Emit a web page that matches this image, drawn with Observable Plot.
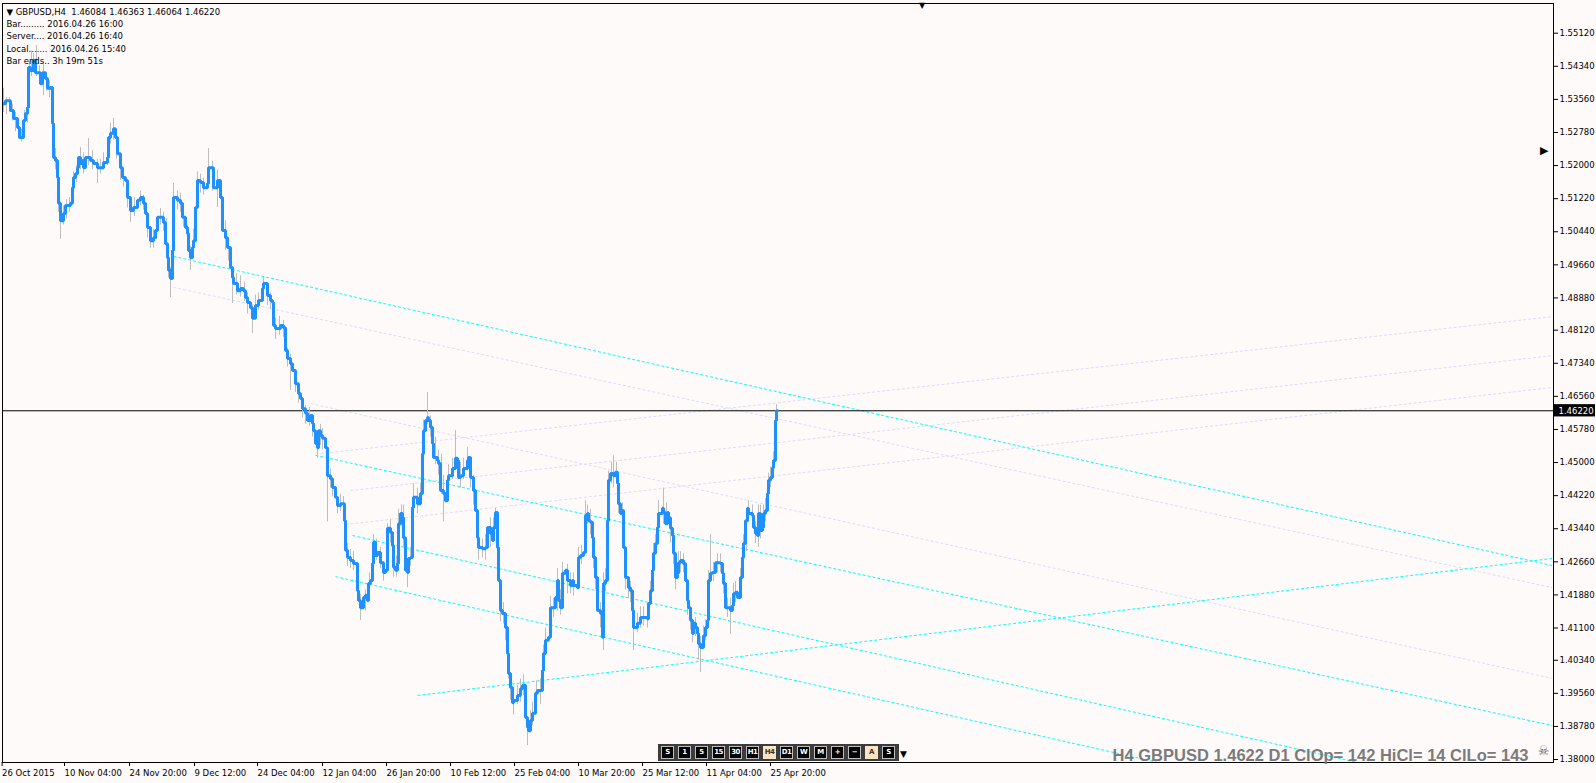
<!DOCTYPE html>
<html><head><meta charset="utf-8">
<script src="https://cdn.jsdelivr.net/npm/d3@7"></script>
<script src="https://cdn.jsdelivr.net/npm/@observablehq/plot@0.6"></script>
<style>
html,body{margin:0;padding:0;background:#FFFAFA;}
#wrap{position:relative;width:1596px;height:783px;overflow:hidden;}
#toolbar{position:absolute;left:658px;top:744px;height:17px;width:241px;background:#3c3c3c;display:flex;gap:4px;padding:0 0 0 3px;box-sizing:border-box;align-items:center;}
#toolbar span{display:inline-block;width:11px;height:11px;border:1px solid #bdbdbd;background:#000;color:#fff;font:bold 7px "DejaVu Sans",sans-serif;line-height:11px;text-align:center;letter-spacing:-0.5px;}
#toolbar span.on{background:#FFE4C4;color:#333;border-color:#FFE4C4;}
#arrowBottom{position:absolute;left:900px;top:749px;font:9px "DejaVu Sans",sans-serif;color:#000;}
</style></head>
<body><div id="wrap"></div>
<script>
// ---------- data ----------
const symbol = "GBPUSD";
const timeframe = "H4";
const ohlcLast = ["1.46084", "1.46363", "1.46064", "1.46220"];
const infoLines = ["Bar......... 2016.04.26 16:00", "Server.... 2016.04.26 16:40", "Local....... 2016.04.26 15:40", "Bar ends.. 3h 19m 51s"];
const currentPrice = 1.46220;
const statusText = "H4 GBPUSD 1.4622 D1 ClOp= 142 HiCl= 14 ClLo= 143";
const periodButtons = ["S","1","5","15","30","H1","H4","D1","W","M","+","\u2212","A","S"];
const activeButtons = [6, 12];

const yTickLabels = ["1.55120","1.54340","1.53560","1.52780","1.52000","1.51220","1.50440","1.49660","1.48880","1.48120","1.47340","1.46560","1.45780","1.45000","1.44220","1.43440","1.42660","1.41880","1.41100","1.40340","1.39560","1.38780","1.38000"];
const xTickBars = [-0.4, 62, 127, 192, 255, 320, 384, 448, 512, 576, 640, 704, 768];
const xTickLabels = ["26 Oct 2015","10 Nov 04:00","24 Nov 20:00","9 Dec 12:00","24 Dec 04:00","12 Jan 04:00","26 Jan 20:00","10 Feb 12:00","25 Feb 04:00","10 Mar 20:00","25 Mar 12:00","11 Apr 04:00","25 Apr 20:00"];

// [bar index, close]
const closeSeries = [[0,1.5346],[2,1.5353],[5,1.5353],[7,1.5330],[10,1.5311],[14,1.5290],[16,1.5266],[19,1.5266],[20,1.5306],[22,1.5323],[24,1.5337],[25,1.5431],[27,1.5424],[30,1.5448],[32,1.5419],[35,1.5419],[37,1.5393],[39,1.5419],[42,1.5405],[44,1.5382],[47,1.5384],[49,1.5299],[50,1.5219],[52,1.5212],[54,1.5172],[55,1.5111],[57,1.5070],[60,1.5087],[62,1.5106],[67,1.5111],[69,1.5148],[70,1.5172],[72,1.5181],[74,1.5195],[75,1.5219],[77,1.5205],[79,1.5212],[80,1.5195],[82,1.5219],[87,1.5212],[90,1.5205],[94,1.5195],[100,1.5207],[104,1.5219],[105,1.5266],[107,1.5276],[110,1.5287],[112,1.5266],[114,1.5228],[117,1.5195],[119,1.5172],[122,1.5165],[124,1.5125],[127,1.5094],[130,1.5101],[134,1.5118],[137,1.5125],[140,1.5111],[142,1.5087],[144,1.5054],[147,1.5023],[150,1.5030],[152,1.5047],[154,1.5078],[157,1.5078],[160,1.5066],[162,1.5016],[164,1.4983],[165,1.4953],[167,1.4934],[169,1.5000],[170,1.5125],[174,1.5118],[177,1.5111],[179,1.5078],[182,1.5054],[184,1.5040],[185,1.5000],[187,1.4983],[189,1.5007],[190,1.5023],[192,1.5101],[194,1.5165],[197,1.5160],[200,1.5148],[204,1.5158],[205,1.5195],[207,1.5195],[210,1.5148],[214,1.5165],[217,1.5125],[219,1.5047],[222,1.5030],[224,1.5007],[227,1.4960],[229,1.4936],[230,1.4922],[234,1.4905],[237,1.4910],[240,1.4905],[242,1.4889],[244,1.4877],[247,1.4865],[249,1.4840],[252,1.4870],[255,1.4882],[259,1.4910],[260,1.4922],[264,1.4894],[267,1.4882],[269,1.4877],[270,1.4823],[272,1.4816],[277,1.4823],[280,1.4818],[282,1.4764],[284,1.4745],[287,1.4733],[289,1.4717],[292,1.4686],[295,1.4663],[297,1.4651],[299,1.4627],[302,1.4616],[304,1.4599],[307,1.4611],[309,1.4592],[310,1.4575],[312,1.4545],[314,1.4535],[315,1.4575],[317,1.4564],[319,1.4557],[322,1.4535],[324,1.4469],[327,1.4462],[329,1.4441],[332,1.4418],[334,1.4399],[337,1.4403],[340,1.4403],[341,1.4363],[342,1.4293],[344,1.4276],[347,1.4269],[350,1.4262],[354,1.4198],[355,1.4175],[357,1.4158],[360,1.4182],[362,1.4187],[364,1.4175],[365,1.4215],[367,1.4222],[369,1.4262],[370,1.4312],[372,1.4281],[374,1.4288],[377,1.4264],[380,1.4241],[382,1.4246],[384,1.4345],[387,1.4335],[389,1.4304],[390,1.4253],[392,1.4246],[394,1.4262],[395,1.4356],[397,1.4380],[399,1.4370],[400,1.4323],[402,1.4246],[404,1.4241],[405,1.4274],[407,1.4276],[409,1.4394],[410,1.4418],[412,1.4418],[414,1.4403],[417,1.4427],[419,1.4521],[420,1.4575],[422,1.4599],[424,1.4606],[425,1.4599],[427,1.4583],[429,1.4545],[430,1.4512],[434,1.4505],[435,1.4498],[437,1.4434],[440,1.4427],[442,1.4410],[444,1.4458],[445,1.4469],[449,1.4486],[452,1.4510],[454,1.4505],[455,1.4465],[457,1.4469],[460,1.4486],[464,1.4505],[465,1.4512],[467,1.4465],[470,1.4434],[472,1.4387],[474,1.4323],[475,1.4300],[479,1.4297],[482,1.4300],[484,1.4347],[487,1.4333],[489,1.4316],[490,1.4347],[492,1.4382],[494,1.4300],[495,1.4222],[497,1.4151],[499,1.4144],[502,1.4111],[504,1.4050],[505,1.4003],[507,1.3970],[509,1.3934],[510,1.3939],[514,1.3951],[517,1.3967],[519,1.3975],[522,1.3899],[524,1.3876],[525,1.3868],[527,1.3892],[529,1.3909],[532,1.3956],[534,1.3963],[537,1.3963],[539,1.4010],[540,1.4050],[542,1.4081],[545,1.4088],[547,1.4158],[550,1.4158],[552,1.4182],[554,1.4222],[555,1.4175],[557,1.4158],[559,1.4239],[562,1.4246],[564,1.4222],[567,1.4210],[569,1.4222],[570,1.4210],[574,1.4205],[575,1.4276],[577,1.4281],[580,1.4288],[582,1.4375],[584,1.4380],[585,1.4363],[587,1.4359],[589,1.4323],[590,1.4276],[592,1.4229],[594,1.4151],[597,1.4144],[599,1.4088],[600,1.4215],[602,1.4222],[604,1.4363],[605,1.4458],[607,1.4474],[610,1.4469],[612,1.4477],[614,1.4451],[615,1.4403],[617,1.4380],[619,1.4387],[620,1.4300],[622,1.4229],[625,1.4205],[627,1.4198],[629,1.4151],[630,1.4111],[634,1.4121],[637,1.4135],[640,1.4135],[644,1.4132],[645,1.4168],[647,1.4198],[649,1.4246],[650,1.4286],[652,1.4309],[654,1.4347],[655,1.4380],[659,1.4392],[660,1.4382],[662,1.4356],[664,1.4382],[665,1.4370],[667,1.4345],[669,1.4328],[670,1.4286],[672,1.4229],[674,1.4239],[675,1.4264],[677,1.4269],[680,1.4262],[682,1.4222],[684,1.4175],[685,1.4158],[687,1.4128],[689,1.4097],[690,1.4121],[692,1.4111],[694,1.4097],[695,1.4073],[697,1.4064],[699,1.4064],[700,1.4092],[702,1.4111],[704,1.4128],[705,1.4222],[707,1.4239],[709,1.4241],[712,1.4264],[714,1.4264],[717,1.4262],[719,1.4239],[720,1.4215],[722,1.4158],[724,1.4158],[727,1.4151],[729,1.4163],[730,1.4191],[732,1.4194],[734,1.4182],[737,1.4229],[739,1.4276],[740,1.4309],[742,1.4363],[744,1.4392],[745,1.4380],[749,1.4375],[750,1.4347],[752,1.4333],[754,1.4328],[755,1.4380],[757,1.4340],[759,1.4347],[760,1.4380],[762,1.4387],[764,1.4427],[765,1.4458],[767,1.4465],[769,1.4488],[770,1.4505],[772,1.4599],[773,1.4622],[774,1.4622]];

// [bar index, high, low]
const wickSeries = [[0,1.5382,1.5325],[3,1.5360,1.5320],[6,1.5360,1.5325],[9,1.5345,1.5305],[12,1.5325,1.5280],[15,1.5300,1.5262],[18,1.5285,1.5255],[21,1.5330,1.5290],[24,1.5350,1.5300],[26,1.5445,1.5400],[28,1.5470,1.5410],[30,1.5465,1.5420],[33,1.5483,1.5410],[36,1.5435,1.5395],[40,1.5445,1.5365],[43,1.5420,1.5375],[46,1.5400,1.5360],[49,1.5320,1.5280],[52,1.5240,1.5190],[55,1.5130,1.5090],[57,1.5090,1.5026],[60,1.5105,1.5060],[63,1.5120,1.5075],[66,1.5125,1.5090],[70,1.5185,1.5130],[73,1.5200,1.5160],[77,1.5243,1.5190],[80,1.5230,1.5180],[85,1.5264,1.5200],[89,1.5235,1.5190],[94,1.5215,1.5158],[97,1.5215,1.5180],[100,1.5230,1.5190],[104,1.5245,1.5200],[107,1.5300,1.5250],[110,1.5311,1.5260],[113,1.5280,1.5215],[117,1.5210,1.5165],[120,1.5190,1.5150],[124,1.5145,1.5100],[127,1.5110,1.5066],[131,1.5125,1.5080],[137,1.5140,1.5105],[140,1.5130,1.5095],[144,1.5070,1.5030],[147,1.5045,1.5005],[150,1.5050,1.5005],[153,1.5075,1.5025],[157,1.5099,1.5060],[160,1.5090,1.5045],[163,1.5075,1.4990],[165,1.4990,1.4935],[167,1.4960,1.4889],[170,1.5158,1.5100],[174,1.5140,1.5095],[177,1.5135,1.5090],[180,1.5100,1.5055],[184,1.5060,1.5020],[187,1.5010,1.4953],[190,1.5050,1.5000],[194,1.5185,1.5140],[197,1.5180,1.5135],[200,1.5170,1.5130],[205,1.5240,1.5180],[209,1.5210,1.5140],[214,1.5190,1.5101],[218,1.5150,1.5100],[222,1.5070,1.5000],[225,1.5030,1.4975],[229,1.4960,1.4875],[233,1.4945,1.4895],[237,1.4940,1.4890],[241,1.4925,1.4880],[244,1.4900,1.4850],[249,1.4870,1.4804],[252,1.4895,1.4850],[255,1.4900,1.4860],[260,1.4936,1.4905],[264,1.4915,1.4870],[267,1.4900,1.4860],[272,1.4840,1.4790],[276,1.4845,1.4800],[280,1.4835,1.4795],[284,1.4770,1.4725],[287,1.4755,1.4670],[292,1.4710,1.4665],[295,1.4680,1.4640],[299,1.4650,1.4605],[302,1.4635,1.4590],[306,1.4630,1.4585],[309,1.4610,1.4560],[314,1.4560,1.4510],[317,1.4590,1.4540],[319,1.4580,1.4530],[324,1.4490,1.4360],[327,1.4485,1.4440],[329,1.4460,1.4420],[334,1.4420,1.4380],[337,1.4425,1.4385],[340,1.4420,1.4380],[344,1.4310,1.4255],[347,1.4295,1.4250],[350,1.4290,1.4245],[354,1.4225,1.4180],[357,1.4190,1.4128],[362,1.4200,1.4150],[366,1.4240,1.4190],[370,1.4330,1.4270],[373,1.4320,1.4270],[377,1.4300,1.4250],[380,1.4265,1.4220],[384,1.4356,1.4320],[387,1.4365,1.4310],[390,1.4330,1.4230],[393,1.4280,1.4230],[395,1.4390,1.4340],[398,1.4400,1.4350],[400,1.4400,1.4300],[404,1.4270,1.4205],[407,1.4300,1.4255],[410,1.4450,1.4400],[414,1.4440,1.4380],[417,1.4450,1.4400],[420,1.4600,1.4540],[424,1.4665,1.4590],[427,1.4610,1.4560],[429,1.4575,1.4520],[432,1.4560,1.4495],[435,1.4530,1.4470],[438,1.4520,1.4425],[440,1.4470,1.4360],[445,1.4495,1.4445],[449,1.4510,1.4460],[452,1.4575,1.4490],[457,1.4500,1.4440],[460,1.4510,1.4460],[464,1.4535,1.4480],[467,1.4500,1.4440],[470,1.4470,1.4400],[475,1.4330,1.4270],[479,1.4320,1.4275],[482,1.4330,1.4270],[487,1.4370,1.4300],[490,1.4370,1.4320],[492,1.4392,1.4350],[497,1.4175,1.4125],[500,1.4170,1.4120],[502,1.4140,1.4080],[505,1.4070,1.3990],[507,1.4000,1.3940],[510,1.3960,1.3905],[514,1.3975,1.3930],[517,1.3990,1.3935],[520,1.4000,1.3950],[524,1.3900,1.3833],[527,1.3915,1.3865],[529,1.3935,1.3880],[533,1.3985,1.3935],[537,1.3990,1.3930],[540,1.4070,1.4020],[542,1.4110,1.4050],[547,1.4185,1.4135],[550,1.4180,1.4135],[554,1.4250,1.4150],[557,1.4200,1.4140],[559,1.4265,1.4210],[564,1.4260,1.4190],[567,1.4240,1.4190],[570,1.4240,1.4185],[575,1.4300,1.4250],[578,1.4305,1.4260],[582,1.4410,1.4350],[584,1.4400,1.4355],[587,1.4390,1.4330],[590,1.4300,1.4250],[592,1.4260,1.4200],[597,1.4170,1.4110],[600,1.4240,1.4057],[602,1.4250,1.4195],[605,1.4480,1.4420],[608,1.4500,1.4450],[610,1.4516,1.4440],[613,1.4500,1.4450],[615,1.4430,1.4380],[619,1.4405,1.4365],[622,1.4250,1.4200],[625,1.4230,1.4180],[627,1.4220,1.4170],[630,1.4140,1.4057],[634,1.4145,1.4100],[637,1.4160,1.4110],[640,1.4160,1.4115],[644,1.4160,1.4110],[647,1.4220,1.4175],[650,1.4310,1.4260],[652,1.4330,1.4285],[655,1.4410,1.4360],[660,1.4440,1.4355],[663,1.4405,1.4360],[667,1.4370,1.4310],[670,1.4310,1.4260],[672,1.4260,1.4200],[675,1.4290,1.4245],[677,1.4290,1.4240],[680,1.4285,1.4240],[684,1.4200,1.4140],[687,1.4150,1.4105],[689,1.4125,1.4075],[692,1.4135,1.4090],[695,1.4095,1.4035],[697,1.4090,1.4005],[700,1.4115,1.4065],[702,1.4130,1.4080],[705,1.4245,1.4195],[707,1.4330,1.4220],[710,1.4265,1.4220],[714,1.4285,1.4240],[717,1.4285,1.4240],[720,1.4240,1.4190],[724,1.4180,1.4135],[727,1.4180,1.4095],[730,1.4215,1.4165],[732,1.4220,1.4170],[737,1.4250,1.4205],[740,1.4330,1.4280],[743,1.4380,1.4290],[745,1.4410,1.4360],[749,1.4400,1.4350],[752,1.4360,1.4309],[755,1.4400,1.4300],[757,1.4400,1.4320],[760,1.4400,1.4355],[762,1.4415,1.4360],[765,1.4475,1.4430],[767,1.4490,1.4440],[770,1.4525,1.4480],[772,1.4610,1.4570],[773,1.46363,1.46064]];

// trend lines [bar1, price1, bar2, price2]
const cyanLines = [[170,1.4986,1549,1.4257],[312,1.4517,1549,1.3880],[349,1.4328,1549,1.3689],[332,1.4231,1549,1.3583],[414,1.3951,1549,1.4274]];
const lavenderLines = [[170,1.4913,1549,1.4205],[307,1.4639,1549,1.3991],[317,1.4521,1549,1.4844],[347,1.4434,1549,1.4752],[342,1.4354,1549,1.4677]];

// ---------- chart ----------
const bg = "#FFFAFA";
const font = "DejaVu Sans";
const yTicks = yTickLabels.map(Number);
const xLabelOf = new Map(xTickBars.map((b, i) => [b, xTickLabels[i]]));
const header = "\u25BC " + symbol + "," + timeframe + "  " + ohlcLast.join(" ");
const infoText = [header, ...infoLines].join("\n");

const chart = Plot.plot({
  width: 1596, height: 783,
  marginTop: 3, marginLeft: 2, marginRight: 43, marginBottom: 21,
  style: {background: bg, fontFamily: font, fontSize: "8.5px", color: "#000", overflow: "visible"},
  x: {domain: [-1, 1550], axis: null},
  y: {domain: [1.3793, 1.5582], axis: null},
  marks: [
    Plot.link(lavenderLines, {x1: d => d[0], y1: d => d[1], x2: d => d[2], y2: d => d[3], stroke: "#DDDDF8", strokeWidth: 1, strokeDasharray: "3,2", clip: true}),
    Plot.link(cyanLines, {x1: d => d[0], y1: d => d[1], x2: d => d[2], y2: d => d[3], stroke: "#00FFFF", strokeWidth: 1, strokeDasharray: "3,2", clip: true}),
    Plot.ruleY([currentPrice], {stroke: "#000", strokeWidth: 1}),
    Plot.ruleX(wickSeries, {x: d => d[0], y1: d => d[2], y2: d => d[1], stroke: "#BDBDBD", strokeWidth: 1}),
    Plot.line(closeSeries, {x: d => d[0], y: d => d[1], curve: "step-after", stroke: "#1E90FF", strokeWidth: 3, strokeLinejoin: "miter"}),
    Plot.frame({stroke: "#000", strokeWidth: 1}),
    Plot.axisY({anchor: "right", ticks: yTicks, tickFormat: d => d.toFixed(5), tickSize: 4, tickPadding: 2, fontSize: 8.5, fontFamily: font, fill: "#000", stroke: "#000"}),
    Plot.axisX({anchor: "bottom", ticks: xTickBars, tickFormat: d => xLabelOf.get(d), tickSize: 4, tickPadding: 3, textAnchor: "start", dx: -1, fontSize: 8.5, fontFamily: font, fill: "#000", stroke: "#000"}),
    Plot.rect([currentPrice], {x1: 1550, x2: 1592, y1: d => d - 0.00145, y2: d => d + 0.00145, fill: "#000"}),
    Plot.text([currentPrice], {x: 1550, y: d => d, text: d => d.toFixed(5), fill: "#fff", textAnchor: "start", dx: 5, fontSize: 8.5, fontFamily: font}),
    Plot.text([infoText], {frameAnchor: "top-left", text: d => d, dx: 4, dy: 3, lineHeight: 1.43, fontSize: 8.5, fontFamily: font, fill: "#000"}),
    Plot.text([statusText], {frameAnchor: "bottom-right", text: d => d, textAnchor: "end", lineAnchor: "bottom", dx: -25, dy: -2, fontSize: 16.5, fontWeight: "bold", fontFamily: "Liberation Sans", fill: "#7B7B7B"}),
    Plot.text(["\u2620"], {frameAnchor: "bottom-right", text: d => d, textAnchor: "end", lineAnchor: "bottom", dx: -4, dy: -8, fontSize: 13, fill: "#666"}),
    Plot.text(["\u25BC"], {frameAnchor: "top", text: d => d, dx: 144, dy: -1, fontSize: 8, fill: "#000"}),
    Plot.text(["\u25B6"], {frameAnchor: "top-right", text: d => d, textAnchor: "end", dx: -5, dy: 143, fontSize: 11, fill: "#000"})
  ]
});

const wrap = document.getElementById("wrap");
wrap.appendChild(chart);

const tb = document.createElement("div");
tb.id = "toolbar";
periodButtons.forEach((b, i) => {
  const s = document.createElement("span");
  s.textContent = b;
  if (activeButtons.includes(i)) s.className = "on";
  tb.appendChild(s);
});
wrap.appendChild(tb);
const ab = document.createElement("div");
ab.id = "arrowBottom";
ab.textContent = "\u25BC";
wrap.appendChild(ab);
</script></body></html>
